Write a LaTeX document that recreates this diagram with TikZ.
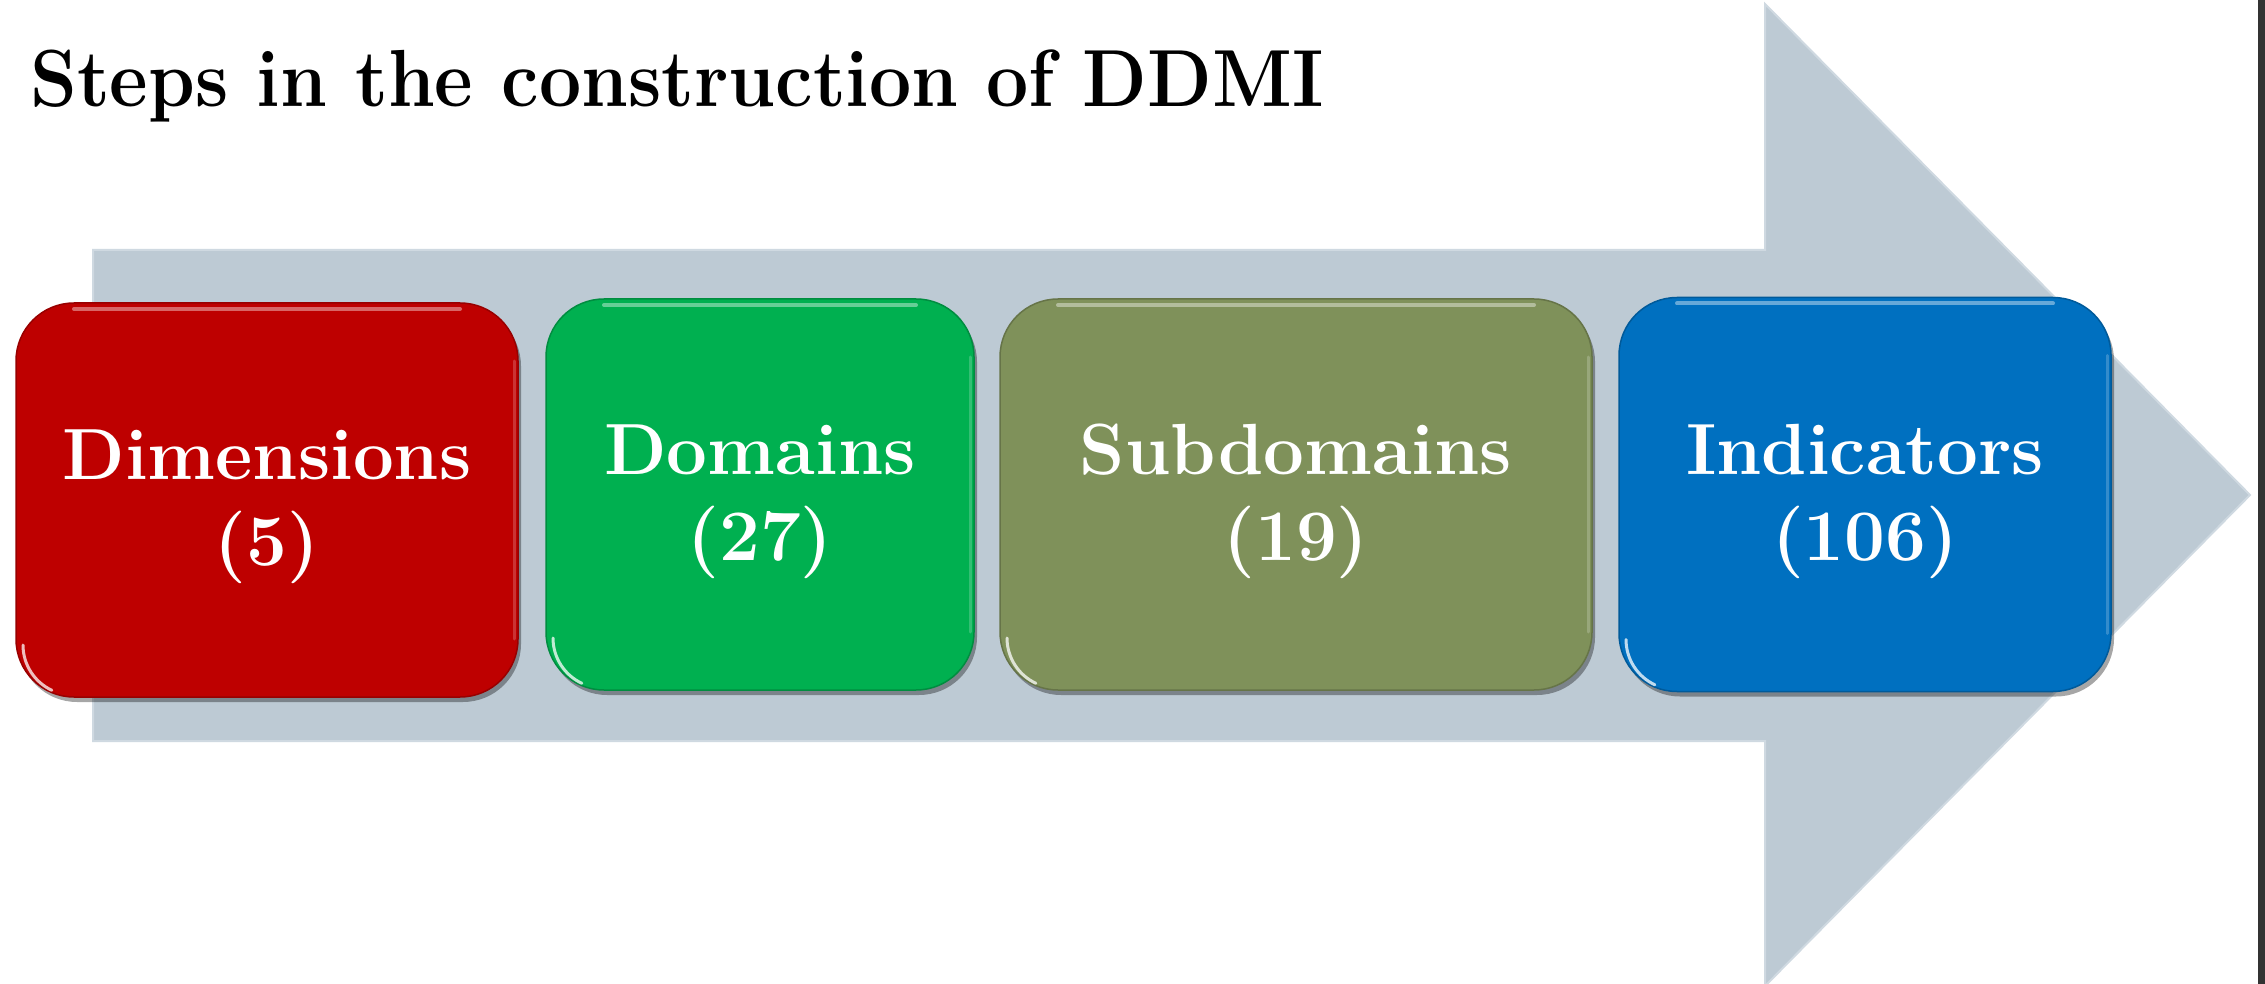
\documentclass[tikz,border=0pt]{standalone}
\usetikzlibrary{calc}
\definecolor{arrowc}{HTML}{BDCAD4}
\definecolor{arrowedge}{HTML}{CFD9E1}
\definecolor{barc}{HTML}{333333}
\definecolor{redc}{HTML}{BE0000}
\definecolor{greenc}{HTML}{00B050}
\definecolor{olivec}{HTML}{7F915A}
\definecolor{bluec}{HTML}{0070C0}
\tikzset{
  stepbox/.style={rectangle, rounded corners=58pt, inner sep=0pt, outer sep=0pt,
    fill=#1, draw=#1!80!black, line width=1.5pt,
    preaction={fill=black, opacity=0.35, transform canvas={xshift=3pt,yshift=-5pt}}},
  lbl/.style={text=white, font=\fontsize{72.5}{86}\selectfont\bfseries, align=center, inner sep=0pt},
  titlestyle/.style={anchor=base west, inner sep=0pt, font=\fontsize{75}{80}\selectfont\bfseries},
  shine/.style={white, opacity=0.4, line width=4pt, line cap=round},
}
\newcommand{\glossbox}[1]{%
  \draw[shine] ($(#1.north west)+(58,-6)$) -- ($(#1.north east)+(-58,-6)$);
  \draw[shine, opacity=0.2, line width=3pt] ($(#1.north east)+(-4,-58)$) -- ($(#1.south east)+(-4,58)$);
  \draw[white, opacity=0.75, line width=3pt, line cap=round] ($(#1.south west)+(7,52)$) arc[start angle=180, end angle=245, radius=50];
}
\begin{document}
\begin{tikzpicture}[x=1pt,y=1pt]
\useasboundingbox (0,0) rectangle (2265,-984);
\fill[white] (0,0) rectangle (2265,-984);
% big arrow
\draw[fill=arrowc, draw=arrowedge, line width=2pt, line join=miter]
  (93,-250) -- (1765,-250) -- (1765,-4) -- (2250,-495) -- (1765,-986) -- (1765,-741) -- (93,-741) -- cycle;
% right dark bar
\fill[barc] (2258,0) rectangle (2265,-984);
% title
\node[titlestyle] (title) at (30,-107) {\scalebox{1}[1.08]{Steps in the construction of DDMI}};
% boxes
\node[stepbox=redc, minimum width=502pt, minimum height=394pt] (b1) at (267,-500) {};
\node[stepbox=greenc, minimum width=428pt, minimum height=391pt] (b2) at (760,-494.5) {};
\node[stepbox=olivec, minimum width=592pt, minimum height=391pt] (b3) at (1296,-494.5) {};
\node[stepbox=bluec, minimum width=492pt, minimum height=394pt] (b4) at (1865,-494.5) {};
\glossbox{b1}\glossbox{b2}\glossbox{b3}\glossbox{b4}
% labels
\node[lbl] (l1) at ($(b1.center)+(0,-7)$) {Dimensions\\(5)};
\node[lbl] (l2) at ($(b2.center)+(0,-7)$) {Domains\\(27)};
\node[lbl] (l3) at ($(b3.center)+(0,-7)$) {Subdomains\\(19)};
\node[lbl] (l4) at ($(b4.center)+(0,-7)$) {Indicators\\(106)};
\end{tikzpicture}
\end{document}
